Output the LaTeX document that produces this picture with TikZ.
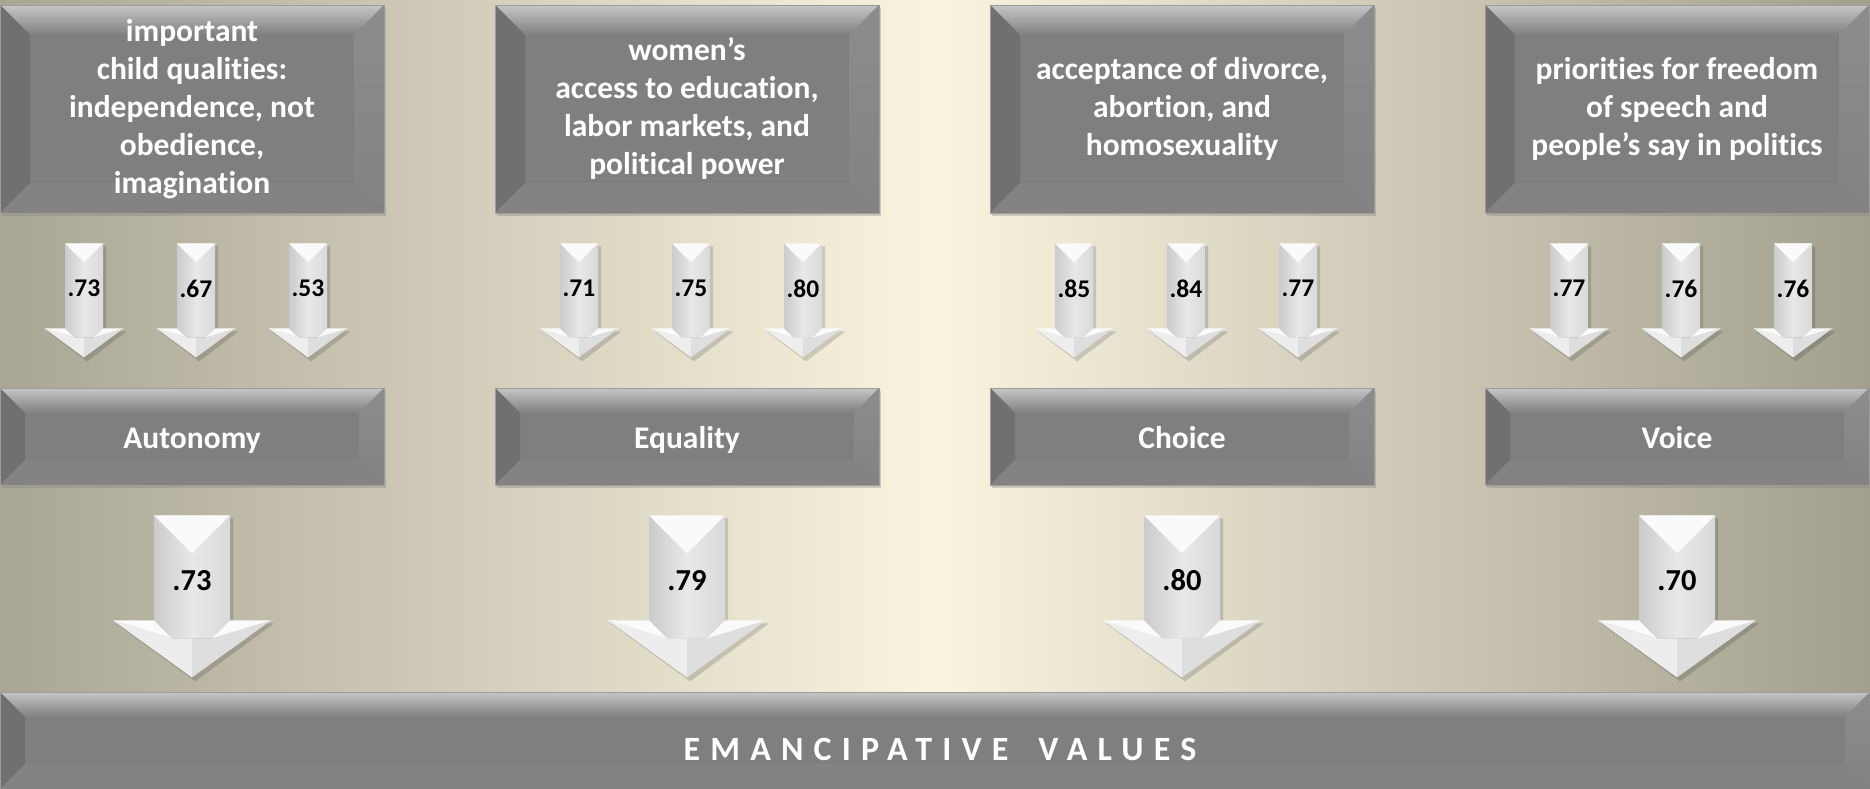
\documentclass[tikz,border=0pt]{standalone}
\usepackage{fontspec}
\setmainfont{Carlito}[Ligatures=NoCommon]
\usepackage{tikz}
\usetikzlibrary{positioning}
\usetikzlibrary{calc}
\usetikzlibrary{shadows}

% block arrow: origin, half shaft, half head, head start, tip, bevel
\newcommand{\blockarrow}[6]{%
  \begin{scope}[shift={#1}]
    \fill[black,opacity=.15] (-#2+3,3) -- (#2+3,3) -- (#2+3,#4+3) -- (#3+3,#4+3) -- (3,#5+4) -- (-#3+3,#4+3) -- (-#2+3,#4+3) -- cycle;
    \shade[left color=arrL,right color=arrC] (-#2,0) -- (0,0) -- (0,#4+#6) -- (-#2+#6,#4+#6) -- (-#2,#4) -- cycle;
    \shade[left color=arrC,right color=arrR] (#2,0) -- (0,0) -- (0,#4+#6) -- (#2-#6,#4+#6) -- (#2,#4) -- cycle;
    \fill[arrTop] (-#2,0) -- (#2,0) -- (0,#2) -- cycle;
    \fill[arrLow] (-#3,#4) -- (-#2+#6,#4+#6) -- (0,#4+#6) -- (0,#5) -- cycle;
    \fill[arrLowR] (#3,#4) -- (#2-#6,#4+#6) -- (0,#4+#6) -- (0,#5) -- cycle;
    \fill[arrTop] (-#3,#4) -- (-#2,#4) -- (-#2+#6,#4+#6) -- cycle;
    \fill[arrTop] (#3,#4) -- (#2,#4) -- (#2-#6,#4+#6) -- cycle;
  \end{scope}}

\begin{document}
\begin{tikzpicture}[x=1pt,y=-1pt,node distance=495pt,
	bevelbox/.style={rectangle,draw=boxedge,line width=.8pt,fill=boxgray,text=white,inner sep=0pt,align=center,
		drop shadow={opacity=.35,shadow xshift=2pt,shadow yshift=-3pt},
		path picture={
			\coordinate (nw) at (path picture bounding box.north west);
			\coordinate (ne) at (path picture bounding box.north east);
			\coordinate (sw) at (path picture bounding box.south west);
			\coordinate (se) at (path picture bounding box.south east);
			\shade[top color=bevhi,bottom color=boxgray] (nw) -- (ne) -- ([shift={(-#1,-#1)}]ne) -- ([shift={(#1,-#1)}]nw) -- cycle;
			\fill[bevdark] (nw) -- ([shift={(#1,-#1)}]nw) -- ([shift={(#1,#1)}]sw) -- (sw) -- cycle;
			\shade[top color=bevright,bottom color=bevbot] (ne) -- (se) -- ([shift={(-#1,#1)}]se) -- ([shift={(-#1,-#1)}]ne) -- cycle;
			\fill[bevbot] (sw) -- ([shift={(#1,#1)}]sw) -- ([shift={(-#1,#1)}]se) -- (se) -- cycle;
		}},
	bevelbox/.default=25pt,
	topbox/.style={bevelbox=30pt,minimum width=384pt,minimum height=208pt,font=\bfseries\fontsize{31.5}{38}\selectfont},
	midbox/.style={bevelbox=25pt,minimum width=384pt,minimum height=97pt,font=\bfseries\fontsize{31.5}{38}\selectfont,text height=30pt,text depth=7pt},
	barbox/.style={bevelbox=25pt,minimum width=1870pt,minimum height=97pt,font=\bfseries\fontsize{34}{40}\selectfont,text height=39pt,text depth=0pt},
	smallnum/.style={font=\bfseries\fontsize{25.5}{30}\selectfont,inner sep=0pt},
	bignum/.style={font=\bfseries\fontsize{30.5}{36}\selectfont,inner sep=0pt}]
	
	\definecolor{bgl}{HTML}{A9A694}
	\definecolor{bgm}{HTML}{FAF4DF}
	\definecolor{bgr}{HTML}{A29F8D}
	\definecolor{boxgray}{HTML}{7F7F7F}
	\definecolor{boxedge}{HTML}{9C9C9C}
	\definecolor{bevhi}{HTML}{C6C6C6}
	\definecolor{bevdark}{HTML}{707070}
	\definecolor{bevright}{HTML}{8C8C8C}
	\definecolor{bevbot}{HTML}{838383}
	\definecolor{arrL}{HTML}{CBCBCB}
	\definecolor{arrC}{HTML}{E8E8E8}
	\definecolor{arrR}{HTML}{D9D9D9}
	\definecolor{arrTop}{HTML}{FAFAFA}
	\definecolor{arrLow}{HTML}{EDEDED}
	\definecolor{arrLowR}{HTML}{DEDEDE}
	
	\useasboundingbox (0,0) rectangle (1870,789);
	\shade[left color=bgl,right color=bgr,middle color=bgm] (0,0) rectangle (1870,789);
	
	\node[topbox] (t1) at (192,109) {important\\child qualities:\\independence, not\\obedience,\\imagination};
	\node[topbox] (t2) [right of=t1] {women’s\\access to education,\\labor markets, and\\political power};
	\node[topbox] (t3) [right of=t2] {acceptance of divorce,\\abortion, and\\homosexuality};
	\node[topbox] (t4) [right of=t3] {priorities for freedom\\of speech and\\people’s say in politics};
	
	\node[midbox] (m1) [below of=t1,node distance=327.5pt] {Autonomy};
	\node[midbox] (m2) [below of=t2,node distance=327.5pt] {Equality};
	\node[midbox] (m3) [below of=t3,node distance=327.5pt] {Choice};
	\node[midbox] (m4) [below of=t4,node distance=327.5pt] {Voice};
	
	\node[barbox] (ev) at (935,740.5) {\hspace{10pt}\addfontfeature{LetterSpace=30}EMANCIPATIVE\hspace{12pt} VALUES};
	
	\foreach \b/\va/\vb/\vc in {t1/.73/.67/.53,t2/.71/.75/.80,t3/.85/.84/.77,t4/.77/.76/.76}
	\foreach \dx/\v [count=\j] in {-108/\va,4/\vb,116/\vc} {
		\blockarrow{($(\b.south)+(\dx,30)$)}{19}{39.5}{85}{114}{9}
		\node[smallnum] (\b-\j) at ($(\b.south)+(\dx,75)$) {\v};
	}
	
	\foreach \b/\v in {m1/.73,m2/.79,m3/.80,m4/.70} {
		\blockarrow{($(\b.south)+(0,30)$)}{38}{79}{105}{162}{18}
		\node[bignum] (\b-a) at ($(\b.south)+(0,95)$) {\v};
	}
\end{tikzpicture}
\end{document}
